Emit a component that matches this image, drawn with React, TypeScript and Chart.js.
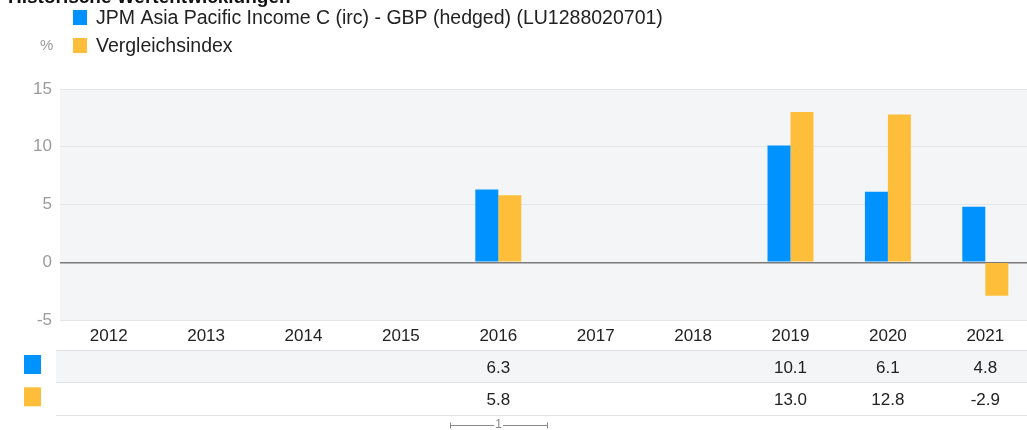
import React, { useEffect, useRef } from "react";
import { Chart, registerables } from "chart.js";

Chart.register(...registerables);

const title = "Historische Wertentwicklungen";
const categories = ["2012", "2013", "2014", "2015", "2016", "2017", "2018", "2019", "2020", "2021"];
const fundName = "JPM Asia Pacific Income C (irc) - GBP (hedged) (LU1288020701)";
const indexName = "Vergleichsindex";
const fundValues: (number | null)[] = [null, null, null, null, 6.3, null, null, 10.1, 6.1, 4.8];
const indexValues: (number | null)[] = [null, null, null, null, 5.8, null, null, 13.0, 12.8, -2.9];
const yTicks = [-5, 0, 5, 10, 15];
const unitLabel = "%";
const pageLabel = "1";

const BLUE = "#0092FF";
const YELLOW = "#FFBE3A";
const FONT = "'Liberation Sans', Arial, sans-serif";

const overlayPlugin = {
  id: "overlay",
  beforeDraw(chart: any) {
    const { ctx, chartArea } = chart;
    ctx.save();
    ctx.fillStyle = "#f4f5f7";
    ctx.fillRect(chartArea.left, chartArea.top, chartArea.right - chartArea.left, chartArea.bottom - chartArea.top);
    ctx.restore();
  },
  afterDraw(chart: any) {
    const { ctx } = chart;
    const xScale = chart.scales.x;
    ctx.save();
    // title (cut off at top)
    ctx.fillStyle = "#111";
    ctx.font = `bold 19px ${FONT}`;
    ctx.textBaseline = "alphabetic";
    ctx.textAlign = "left";
    ctx.fillText(title, 8, 3);

    // legend
    const legend = [
      { name: fundName, color: BLUE, y: 18 },
      { name: indexName, color: YELLOW, y: 46 },
    ];
    ctx.font = `19.5px ${FONT}`;
    ctx.textBaseline = "middle";
    legend.forEach((l) => {
      ctx.fillStyle = l.color;
      ctx.fillRect(73, l.y - 8, 14, 15);
      ctx.fillStyle = "#222";
      ctx.fillText(l.name, 96, l.y + 0.5);
    });
    ctx.fillStyle = "#9a9a9a";
    ctx.font = `15px ${FONT}`;
    ctx.fillText(unitLabel, 40, 46);

    // table
    const rows = [
      { values: fundValues, color: BLUE, bg: "#f4f5f7" },
      { values: indexValues, color: YELLOW, bg: "#ffffff" },
    ];
    const tableTop = 350;
    const rowH = 32.3;
    const left = 56;
    const right = chart.width;
    rows.forEach((r, i) => {
      const y0 = tableTop + i * rowH;
      ctx.fillStyle = r.bg;
      ctx.fillRect(left, y0, right - left, rowH);
      ctx.fillStyle = r.color;
      ctx.fillRect(24, y0 + 5, 17, 19);
      ctx.fillStyle = "#222";
      ctx.font = `17px ${FONT}`;
      ctx.textAlign = "center";
      ctx.textBaseline = "middle";
      r.values.forEach((v, j) => {
        if (v === null) return;
        ctx.fillText(v.toFixed(1), xScale.getPixelForValue(j), y0 + rowH / 2 + 2);
      });
    });
    ctx.strokeStyle = "#e2e3e7";
    ctx.lineWidth = 1;
    for (let i = 0; i <= rows.length; i++) {
      const y = Math.round(tableTop + i * rowH) + 0.5;
      ctx.beginPath();
      ctx.moveTo(left, y);
      ctx.lineTo(right, y);
      ctx.stroke();
    }

    // pager indicator
    ctx.strokeStyle = "#888";
    ctx.fillStyle = "#888";
    const py = 425.5;
    ctx.beginPath();
    ctx.moveTo(450, py);
    ctx.lineTo(494, py);
    ctx.moveTo(503, py);
    ctx.lineTo(548, py);
    ctx.moveTo(450.5, py - 3);
    ctx.lineTo(450.5, py + 3);
    ctx.moveTo(547.5, py - 3);
    ctx.lineTo(547.5, py + 3);
    ctx.stroke();
    ctx.font = `12px ${FONT}`;
    ctx.textAlign = "center";
    ctx.textBaseline = "middle";
    ctx.fillText(pageLabel, 498.5, py - 1);
    ctx.restore();
  },
};

export default function App() {
  const ref = useRef<HTMLCanvasElement | null>(null);
  useEffect(() => {
    if (!ref.current) return;
    const chart = new Chart(ref.current, {
      type: "bar",
      data: {
        labels: categories,
        datasets: [
          { label: fundName, data: fundValues, backgroundColor: BLUE, categoryPercentage: 0.472, barPercentage: 1.0 },
          { label: indexName, data: indexValues, backgroundColor: YELLOW, categoryPercentage: 0.472, barPercentage: 1.0 },
        ],
      },
      options: {
        animation: false,
        responsive: false,
        maintainAspectRatio: false,
        layout: { padding: { top: 89, bottom: 80, left: 0, right: 0 } },
        plugins: { legend: { display: false }, tooltip: { enabled: false }, title: { display: false } },
        scales: {
          x: {
            grid: { display: false, drawTicks: false },
            border: { display: false },
            ticks: { color: "#222", font: { family: FONT, size: 17 }, padding: 6, maxRotation: 0 },
            afterFit: (s: any) => {
              s.height = 30;
            },
          },
          y: {
            min: -5,
            max: 15,
            afterBuildTicks: (s: any) => {
              s.ticks = yTicks.map((v) => ({ value: v }));
            },
            grid: {
              drawTicks: false,
              color: (c: any) => (c.tick && c.tick.value === 0 ? "#7a7a7a" : "#e4e5e9"),
              lineWidth: (c: any) => (c.tick && c.tick.value === 0 ? 1.5 : 1),
            },
            border: { display: false },
            ticks: { color: "#9a9a9a", font: { family: FONT, size: 17 }, padding: 8 },
            afterFit: (s: any) => {
              s.width = 60;
            },
          },
        },
      },
      plugins: [overlayPlugin],
    });
    return () => chart.destroy();
  }, []);
  return (
    <div style={{ position: "absolute", left: 0, top: 0, width: 1027, height: 430, overflow: "hidden" }}>
      <canvas ref={ref} width={1034} height={430} style={{ width: 1034, height: 430, display: "block" }} />
    </div>
  );
}
